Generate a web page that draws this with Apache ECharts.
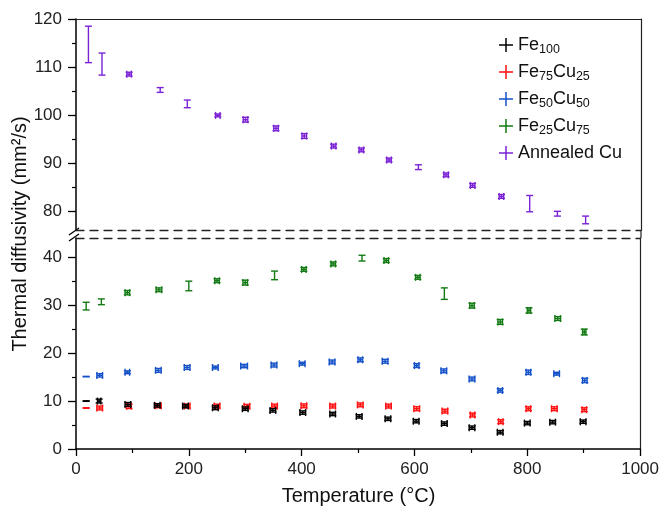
<!DOCTYPE html>
<html><head><meta charset="utf-8">
<script src="https://cdn.jsdelivr.net/npm/echarts@6/dist/echarts.min.js"></script>
<style>html,body{margin:0;padding:0;background:#fff}#c{width:662px;height:510px}</style>
</head><body><div id="c"></div>
<script>
// ---------------- data ----------------
const seriesNames = ['Fe100', 'Fe75Cu25', 'Fe50Cu50', 'Fe25Cu75', 'Annealed Cu'];

const tFe100 = [18, 41, 92, 144, 194, 247, 300, 349, 402, 455, 502, 553, 603, 653, 702, 752, 800, 845, 899];
const vFe100 = [10.0, 10.0, 9.3, 9.1, 8.95, 8.6, 8.4, 8.05, 7.6, 7.3, 6.8, 6.3, 5.8, 5.3, 4.45, 3.5, 5.4, 5.6, 5.7];
const eFe100 = [0.05, 0.4, 0.4, 0.35, 0.35, 0.4, 0.35, 0.35, 0.35, 0.35, 0.35, 0.35, 0.35, 0.35, 0.35, 0.35, 0.35, 0.35, 0.35];
const xeFe100 = [0, 3, 5, 5, 5, 5, 5, 5, 5, 5, 5, 5, 5, 5, 5, 5, 5, 5, 5];

const tFe75 = [18, 42, 94, 146, 197, 250, 303, 352, 404, 455, 504, 554, 604, 654, 703, 753, 802, 848, 901];
const vFe75 = [8.55, 8.55, 8.9, 9.0, 8.95, 8.95, 8.9, 8.95, 9.0, 8.95, 9.2, 8.95, 8.4, 7.9, 7.1, 5.7, 8.4, 8.4, 8.2];
const eFe75 = [0.05, 0.4, 0.45, 0.4, 0.4, 0.4, 0.4, 0.4, 0.4, 0.4, 0.4, 0.4, 0.4, 0.4, 0.4, 0.4, 0.4, 0.4, 0.4];
const xeFe75 = [0, 5, 4, 5, 5, 5, 5, 5, 5, 5, 5, 5, 5, 5, 4, 4, 4, 5, 4];

const tFe50 = [18, 42, 91, 146, 197, 247, 298, 351, 401, 454, 504, 548, 604, 652, 702, 752, 802, 852, 902];
const vFe50 = [15.1, 15.35, 16.0, 16.4, 17.0, 17.0, 17.3, 17.5, 17.8, 18.15, 18.6, 18.3, 17.4, 16.3, 14.6, 12.2, 16.0, 15.7, 14.3];
const eFe50 = [0.05, 0.35, 0.3, 0.4, 0.4, 0.3, 0.35, 0.4, 0.3, 0.4, 0.4, 0.4, 0.4, 0.4, 0.4, 0.35, 0.45, 0.3, 0.45];
const xeFe50 = [0, 5, 4, 5, 5, 5, 6, 5, 5, 5, 4, 5, 4, 5, 5, 4, 4, 5, 4];

const tFe25 = [18, 45, 91, 147, 200, 250, 300, 352, 404, 456, 507, 550, 606, 653, 702, 752, 803, 854, 901];
const vFe25 = [29.8, 30.7, 32.6, 33.2, 34.0, 35.1, 34.7, 36.2, 37.45, 38.6, 39.8, 39.3, 35.8, 32.4, 29.9, 26.5, 28.9, 27.2, 24.4];
const eFe25 = [0.8, 0.6, 0.45, 0.4, 1.0, 0.4, 0.5, 0.9, 0.4, 0.4, 0.6, 0.4, 0.4, 1.2, 0.5, 0.5, 0.55, 0.4, 0.6];
const xeFe25 = [0, 0, 4, 5, 0, 4, 4, 0, 4, 4, 0, 4, 4, 0, 4, 4, 3, 5, 3];

const tCu = [22, 46, 94, 149, 197, 251, 300, 354, 404, 456, 505, 554, 606, 655, 702, 753, 803, 852, 902];
const vCu = [114.7, 110.6, 108.5, 105.2, 102.3, 99.9, 99.0, 97.2, 95.6, 93.5, 92.7, 90.6, 89.1, 87.5, 85.3, 83.0, 81.5, 79.4, 78.1];
const eCu = [3.8, 2.3, 0.4, 0.5, 0.8, 0.3, 0.5, 0.5, 0.5, 0.4, 0.4, 0.4, 0.5, 0.4, 0.4, 0.4, 1.7, 0.5, 0.8];
const xeCu = [0, 0, 4, 0, 0, 4, 4, 4, 4, 4, 4, 4, 0, 4, 4, 4, 0, 0, 0];

const colors = ['#000000', '#ff1010', '#1552c8', '#137a13', '#7b22d6'];

const yTopLabels = [80, 90, 100, 110, 120];
const yTopMinor = [85, 95, 105, 115];
const yBotLabels = [0, 10, 20, 30, 40];
const yBotMinor = [5, 15, 25, 35];

// ---------------- layout ----------------
const FONT = 'Liberation Sans, Arial, sans-serif';
const PL = 76, PR = 641, TOP1 = 19, BOT1 = 230, TOP2 = 238, BOT2 = 449;
const X_MIN = 0, X_MAX = 1000, TOP_MIN = 76, TOP_MAX = 120, BOT_MIN = 0, BOT_MAX = 44;

function mk(t, v, e, xe) { return t.map((x, i) => [x, v[i], e[i], xe[i]]); }

function renderErr(params, api) {
  const x = api.value(0), y = api.value(1), e = api.value(2), xe = api.value(3);
  const c = api.coord([x, y]);
  const top = api.coord([x, y + e]);
  const bot = api.coord([x, y - e]);
  const style = { stroke: api.visual('color'), lineWidth: 1.4, fill: null };
  const cap = 3.5;
  const ch = [
    { type: 'line', shape: { x1: c[0], y1: top[1], x2: c[0], y2: bot[1] }, style },
    { type: 'line', shape: { x1: c[0] - cap, y1: top[1], x2: c[0] + cap, y2: top[1] }, style },
    { type: 'line', shape: { x1: c[0] - cap, y1: bot[1], x2: c[0] + cap, y2: bot[1] }, style }
  ];
  if (xe > 0) {
    const l = api.coord([x - xe, y]), r = api.coord([x + xe, y]);
    ch.push({ type: 'line', shape: { x1: l[0], y1: c[1], x2: r[0], y2: c[1] }, style });
    ch.push({ type: 'line', shape: { x1: l[0], y1: c[1] - cap, x2: l[0], y2: c[1] + cap }, style });
    ch.push({ type: 'line', shape: { x1: r[0], y1: c[1] - cap, x2: r[0], y2: c[1] + cap }, style });
  }
  return { type: 'group', children: ch };
}

const plusIcon = 'path://M6.25,0H7.75V6.25H14V7.75H7.75V14H6.25V7.75H0V6.25H6.25Z';
const legendText = {
  'Fe100': '{n|Fe}{s|100}',
  'Fe75Cu25': '{n|Fe}{s|75}{n|Cu}{s|25}',
  'Fe50Cu50': '{n|Fe}{s|50}{n|Cu}{s|50}',
  'Fe25Cu75': '{n|Fe}{s|25}{n|Cu}{s|75}',
  'Annealed Cu': '{n|Annealed Cu}'
};

const axisLineBlack = { show: true, onZero: false, lineStyle: { color: '#000', width: 1.5 } };
const dashed = { show: true, onZero: false, lineStyle: { color: '#222', width: 1.3, type: [8, 6] } };
const frame = { show: true, onZero: false, lineStyle: { color: '#222', width: 1.2 } };
const labelStyle = { fontFamily: FONT, fontSize: 17, color: '#222' };
const noTick = { show: false }, noLabel = { show: false }, noSplit = { show: false };

const chart = echarts.init(document.getElementById('c'), null, { renderer: 'canvas' });

const dataSets = [
  mk(tFe100, vFe100, eFe100, xeFe100),
  mk(tFe75, vFe75, eFe75, xeFe75),
  mk(tFe50, vFe50, eFe50, xeFe50),
  mk(tFe25, vFe25, eFe25, xeFe25),
  mk(tCu, vCu, eCu, xeCu)
];

const series = seriesNames.map((name, i) => ({
  name, type: 'custom', renderItem: renderErr,
  xAxisIndex: i === 4 ? 0 : 2, yAxisIndex: i === 4 ? 0 : 2,
  itemStyle: { color: colors[i] },
  encode: { x: 0, y: 1 },
  data: dataSets[i], z: 10 - i
}));

const hiddenX = g => ({ gridIndex: g, type: 'value', min: X_MIN, max: X_MAX, show: false });

chart.setOption({
  animation: false,
  backgroundColor: '#fff',
  grid: [
    { left: PL, width: PR - PL, top: TOP1, height: BOT1 - TOP1 },
    { left: PL, width: PR - PL, top: TOP2, height: BOT2 - TOP2 },
    { left: PL, width: PR - PL, top: TOP1, height: BOT1 - TOP1 },
    { left: PL, width: PR - PL, top: TOP2, height: BOT2 - TOP2 }
  ],
  xAxis: [
    { gridIndex: 0, type: 'value', min: X_MIN, max: X_MAX, position: 'bottom', axisLine: dashed, axisTick: noTick, axisLabel: noLabel, splitLine: noSplit },
    { gridIndex: 0, type: 'value', min: X_MIN, max: X_MAX, position: 'top', axisLine: frame, axisTick: noTick, axisLabel: noLabel, splitLine: noSplit },
    { gridIndex: 1, type: 'value', min: X_MIN, max: X_MAX, interval: 200, position: 'bottom',
      axisLine: axisLineBlack,
      axisTick: { show: true, length: 7, lineStyle: { color: '#000', width: 1.3 } },
      minorTick: { show: true, splitNumber: 2, length: 4, lineStyle: { color: '#000', width: 1.2 } },
      axisLabel: Object.assign({ margin: 12, formatter: v => String(v) }, labelStyle),
      splitLine: noSplit, minorSplitLine: noSplit },
    { gridIndex: 1, type: 'value', min: X_MIN, max: X_MAX, position: 'top', axisLine: dashed, axisTick: noTick, axisLabel: noLabel, splitLine: noSplit },
    hiddenX(2), hiddenX(3)
  ],
  yAxis: [
    { gridIndex: 0, type: 'value', min: TOP_MIN, max: TOP_MAX, position: 'left',
      axisLine: axisLineBlack,
      axisTick: { show: true, length: 8, customValues: yTopLabels, lineStyle: { color: '#000', width: 1.3 } },
      axisLabel: Object.assign({ margin: 14, customValues: yTopLabels }, labelStyle),
      splitLine: noSplit },
    { gridIndex: 0, type: 'value', min: TOP_MIN, max: TOP_MAX, position: 'right', axisLine: frame, axisTick: noTick, axisLabel: noLabel, splitLine: noSplit },
    { gridIndex: 1, type: 'value', min: BOT_MIN, max: BOT_MAX, position: 'left',
      axisLine: axisLineBlack,
      axisTick: { show: true, length: 8, customValues: yBotLabels, lineStyle: { color: '#000', width: 1.3 } },
      axisLabel: Object.assign({ margin: 14, customValues: yBotLabels }, labelStyle),
      splitLine: noSplit },
    { gridIndex: 1, type: 'value', min: BOT_MIN, max: BOT_MAX, position: 'right', axisLine: frame, axisTick: noTick, axisLabel: noLabel, splitLine: noSplit },
    { gridIndex: 2, type: 'value', min: TOP_MIN, max: TOP_MAX, position: 'left',
      axisLine: { show: false, onZero: false },
      axisTick: { show: true, length: 4, customValues: yTopMinor, lineStyle: { color: '#000', width: 1.2 } },
      axisLabel: { show: false, customValues: yTopMinor }, splitLine: noSplit },
    { gridIndex: 3, type: 'value', min: BOT_MIN, max: BOT_MAX, position: 'left',
      axisLine: { show: false, onZero: false },
      axisTick: { show: true, length: 4, customValues: yBotMinor, lineStyle: { color: '#000', width: 1.2 } },
      axisLabel: { show: false, customValues: yBotMinor }, splitLine: noSplit }
  ],
  legend: {
    orient: 'vertical', left: 494, top: 31,
    itemWidth: 14, itemHeight: 14, itemGap: 7,
    data: seriesNames.map(n => ({ name: n, icon: plusIcon })),
    formatter: n => legendText[n],
    textStyle: {
      color: '#111', fontFamily: FONT,
      rich: {
        n: { fontSize: 18, fontFamily: FONT, color: '#111', lineHeight: 22 },
        s: { fontSize: 12.5, fontFamily: FONT, color: '#111', lineHeight: 12, verticalAlign: 'bottom' }
      }
    }
  },
  graphic: [
    { type: 'text', x: 20, y: (TOP1 + BOT2) / 2, rotation: Math.PI / 2,
      style: { text: 'Thermal diffusivity (mm²/s)', fontFamily: FONT, fontSize: 20, fill: '#111', textAlign: 'center', textVerticalAlign: 'middle' } },
    { type: 'text', x: (PL + PR) / 2, y: 496,
      style: { text: 'Temperature (°C)', fontFamily: FONT, fontSize: 20, fill: '#111', textAlign: 'center', textVerticalAlign: 'middle' } },
    { type: 'line', shape: { x1: PR, y1: BOT1, x2: PR, y2: TOP2 }, style: { stroke: '#222', lineWidth: 1.2 } },
    { type: 'line', shape: { x1: PL - 7, y1: BOT1 + 5, x2: PL + 3, y2: BOT1 - 2 }, style: { stroke: '#000', lineWidth: 1.3 } },
    { type: 'line', shape: { x1: PL - 7, y1: TOP2 + 3, x2: PL + 3, y2: TOP2 - 4 }, style: { stroke: '#000', lineWidth: 1.3 } }
  ],
  series
});
</script></body></html>
